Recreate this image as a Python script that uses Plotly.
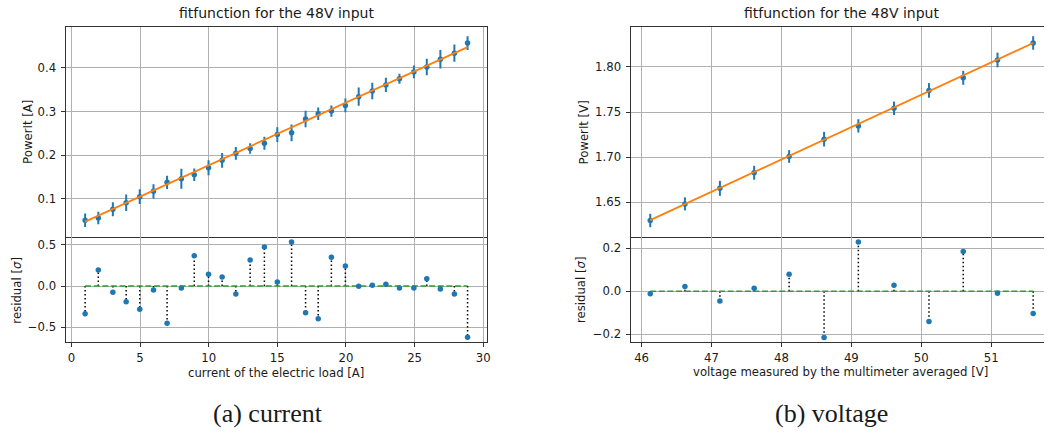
import numpy as np
import plotly.graph_objects as go

# ---------------- data ----------------
cur_x = [1.0, 1.96, 3.02, 3.99, 4.98, 5.98, 6.97, 8.01, 8.95, 9.99, 10.98, 11.98, 13.02, 14.06,
         15.0, 16.04, 17.06, 17.98, 18.94, 19.96, 20.93, 21.92, 22.91, 23.9, 24.95, 25.89,
         26.88, 27.9, 28.86]
cur_y = [0.0505, 0.0557, 0.0756, 0.0908, 0.1046, 0.1168, 0.1374, 0.1458, 0.155, 0.171, 0.188,
         0.204, 0.215, 0.227, 0.247, 0.251, 0.283, 0.295, 0.301, 0.314, 0.334, 0.347, 0.361,
         0.375, 0.391, 0.402, 0.420, 0.434, 0.457]
cur_err = [0.0153, 0.0145, 0.016, 0.019, 0.017, 0.0164, 0.0153, 0.023, 0.0145, 0.017, 0.017,
           0.0145, 0.012, 0.015, 0.017, 0.019, 0.019, 0.0145, 0.013, 0.0157, 0.021, 0.019,
           0.0164, 0.0115, 0.0145, 0.019, 0.021, 0.020, 0.016]
cur_res = [-0.336, 0.194, -0.077, -0.19, -0.283, -0.049, -0.453, -0.024, 0.368, 0.142, 0.109,
           -0.097, 0.316, 0.474, 0.049, 0.534, -0.324, -0.397, 0.348, 0.243, -0.004, 0.008,
           0.02, -0.024, -0.024, 0.089, -0.036, -0.097, -0.623]
cur_fit_slope = 0.01438
cur_fit_intercept = 0.0329

volt_x = [46.124, 46.62, 47.12, 47.61, 48.11, 48.61, 49.10, 49.61, 50.11, 50.60, 51.09, 51.60]
volt_y = [1.6298, 1.6482, 1.6654, 1.6827, 1.7007, 1.7199, 1.7346, 1.7541, 1.7739, 1.7879,
          1.8077, 1.8265]
volt_err = [0.0074, 0.0072, 0.0083, 0.0077, 0.007, 0.0081, 0.0074, 0.0074, 0.0081, 0.0077,
            0.0081, 0.0075]
volt_res = [-0.012, 0.022, -0.045, 0.014, 0.079, -0.215, 0.229, 0.028, -0.141, 0.185, -0.009,
            -0.103]
volt_fit_slope = 0.035847
volt_fit_intercept = -0.02321

cur_xticks = [0, 5, 10, 15, 20, 25, 30]
cur_yticks = [0.1, 0.2, 0.3, 0.4]
cur_rticks = [-0.5, 0.0, 0.5]
volt_xticks = [46, 47, 48, 49, 50, 51]
volt_yticks = [1.65, 1.70, 1.75, 1.80]
volt_rticks = [-0.2, 0.0, 0.2]

title_text = "fitfunction for the 48V input"
cur_ylabel = "PowerIt [A]"
volt_ylabel = "PowerIt [V]"
res_label = "residual [<i>σ</i>]"
cur_xlabel = "current of the electric load [A]"
volt_xlabel = "voltage measured by the multimeter averaged [V]"
captions = ["(a) current", "(b) voltage"]

# ---------------- layout helpers ----------------
W, H = 1048, 435
def px(x):
    return x / W
def py(y):
    return 1 - y / H

BLUE = "#1f77b4"
ORANGE = "#ff7f0e"
GREEN = "#2ca02c"
FONT = "DejaVu Sans"
TXT = "#1a1a1a"
FS = 11.7
LINE = "#333333"

fig = go.Figure()

def add_panel(xs, ys, errs, res, slope, intercept, xa, ya, xa2, ya2):
    xs = np.array(xs)
    fig.add_trace(go.Scatter(
        x=xs, y=ys, mode="markers",
        marker=dict(color=BLUE, size=5.5),
        error_y=dict(type="data", array=errs, visible=True, color=BLUE, thickness=2, width=0),
        xaxis=xa, yaxis=ya, showlegend=False))
    xl = np.array([xs[0], xs[-1]])
    fig.add_trace(go.Scatter(
        x=xl, y=intercept + slope * xl, mode="lines",
        line=dict(color=ORANGE, width=1.8),
        xaxis=xa, yaxis=ya, showlegend=False))
    sx, sy = [], []
    for xv, rv in zip(xs, res):
        sx += [xv, xv, None]
        sy += [0, rv, None]
    fig.add_trace(go.Scatter(
        x=sx, y=sy, mode="lines",
        line=dict(color="black", width=1.5, dash="1.5px,2.5px"),
        xaxis=xa2, yaxis=ya2, showlegend=False))
    fig.add_trace(go.Scatter(
        x=[xs[0], xs[-1]], y=[0, 0], mode="lines",
        line=dict(color=GREEN, width=1.5, dash="6px,2.6px"),
        xaxis=xa2, yaxis=ya2, showlegend=False))
    fig.add_trace(go.Scatter(
        x=xs, y=res, mode="markers",
        marker=dict(color=BLUE, size=5.5),
        xaxis=xa2, yaxis=ya2, showlegend=False))

add_panel(cur_x, cur_y, cur_err, cur_res, cur_fit_slope, cur_fit_intercept, "x", "y", "x2", "y2")
add_panel(volt_x, volt_y, volt_err, volt_res, volt_fit_slope, volt_fit_intercept, "x3", "y3", "x4", "y4")

TOP = [py(237), py(27)]
BOT = [py(342), py(237)]
LDOM = [px(66.3), px(488.5)]
RDOM = [px(633.5), 1.0]

grid = dict(showgrid=True, gridcolor="#b0b0b0", gridwidth=0.8, zeroline=False,
            showline=True, linecolor=LINE, linewidth=1.2,
            tickwidth=0.8, tickcolor=LINE,
            tickfont=dict(family=FONT, size=FS, color=TXT))
tick_out = dict(ticks="outside", ticklen=3.5)

cur_xr = [-0.39, 30.25]
volt_xr = [45.85, 51.755]

fig.update_layout(
    width=W, height=H, autosize=False,
    margin=dict(l=0, r=0, t=0, b=0),
    paper_bgcolor="white", plot_bgcolor="white",
    font=dict(family=FONT, size=FS, color=TXT),
    xaxis=dict(domain=LDOM, range=cur_xr, anchor="y", tickvals=cur_xticks,
               showticklabels=False, mirror=True, ticks="", **grid),
    yaxis=dict(domain=TOP, range=[0.012, 0.494], anchor="x", tickvals=cur_yticks,
               tickformat=".1f", mirror=True, ticklabelstandoff=3, **tick_out, **grid),
    xaxis2=dict(domain=LDOM, range=cur_xr, anchor="y2", tickvals=cur_xticks, mirror=False,
                ticklabelstandoff=1, **tick_out, **grid),
    yaxis2=dict(domain=BOT, range=[-0.68, 0.595], anchor="x2", tickvals=cur_rticks,
                tickformat=".1f", mirror=True, ticklabelstandoff=3, **tick_out, **grid),
    xaxis3=dict(domain=RDOM, range=volt_xr, anchor="y3", tickvals=volt_xticks,
                showticklabels=False, mirror=True, ticks="", **grid),
    yaxis3=dict(domain=TOP, range=[1.6115, 1.8442], anchor="x3", tickvals=volt_yticks,
                tickformat=".2f", mirror=False, ticklabelstandoff=3, **tick_out, **grid),
    xaxis4=dict(domain=RDOM, range=volt_xr, anchor="y4", tickvals=volt_xticks, mirror=False,
                ticklabelstandoff=1, **tick_out, **grid),
    yaxis4=dict(domain=BOT, range=[-0.236, 0.252], anchor="x4", tickvals=volt_rticks,
                tickformat=".1f", mirror=False, ticklabelstandoff=3, **tick_out, **grid),
)

ann = []
def text(x, y, s, size=FS, angle=0, family=FONT):
    ann.append(dict(x=px(x), y=py(y), xref="paper", yref="paper", text=s, showarrow=False,
                    xanchor="center", yanchor="middle", textangle=angle,
                    font=dict(family=family, size=size, color=TXT)))

text(277.5, 13, title_text, size=14)
text(844.8, 13, title_text, size=14)
text(28, 132, cur_ylabel, angle=-90)
text(16.7, 290, res_label, angle=-90)
text(586.7, 132, volt_ylabel, angle=-90)
text(583.3, 290, res_label, angle=-90)
text(277.2, 373, cur_xlabel)
text(843.5, 372, volt_xlabel)
text(269, 413, captions[0], size=26, family="Liberation Serif")
text(835, 413, captions[1], size=26, family="Liberation Serif")
fig.update_layout(annotations=ann)

fig.write_html("out.html")
